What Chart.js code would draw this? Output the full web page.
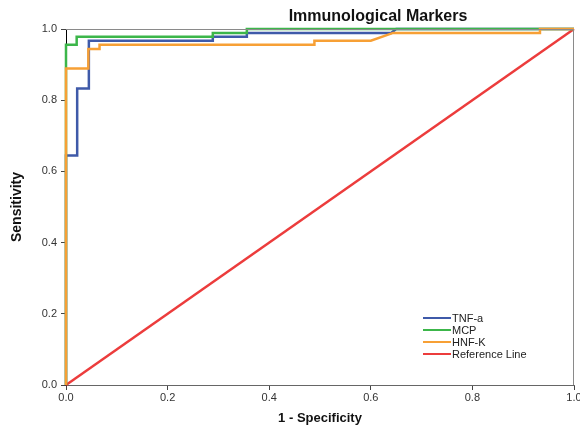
<!DOCTYPE html>
<html>
<head>
<meta charset="utf-8">
<script src="https://cdn.jsdelivr.net/npm/chart.js@4"></script>
<style>
  html, body { margin: 0; padding: 0; background: #fff; }
  #wrap { width: 580px; height: 428px; }
</style>
</head>
<body>
<div id="wrap"><canvas id="chart" width="580" height="428"></canvas></div>
<script>
// ROC curve points (1 - specificity, sensitivity)
const tnfFpr = [0, 0, 0.022, 0.022, 0.045, 0.045, 0.289, 0.289, 0.356, 0.356, 0.64, 0.65, 1];
const tnfTpr = [0, 0.645, 0.645, 0.833, 0.833, 0.967, 0.967, 0.978, 0.978, 0.989, 0.989, 1, 1];

const mcpFpr = [0, 0, 0.021, 0.021, 0.289, 0.289, 0.356, 0.356, 1];
const mcpTpr = [0, 0.956, 0.956, 0.978, 0.978, 0.989, 0.989, 1, 1];

const hnfFpr = [0, 0, 0.044, 0.044, 0.066, 0.066, 0.489, 0.489, 0.6, 0.644, 0.933, 0.933, 1];
const hnfTpr = [0, 0.889, 0.889, 0.944, 0.944, 0.956, 0.956, 0.967, 0.967, 0.989, 0.989, 1, 1];

const refFpr = [0, 1];
const refTpr = [0, 1];

const seriesNames = ['TNF-a', 'MCP', 'HNF-K', 'Reference Line'];
const seriesColors = ['#3f5aa9', '#3cb64a', '#f7a035', '#ec3c3c'];
const tickValues = [0, 0.2, 0.4, 0.6, 0.8, 1.0];

function toPoints(xs, ys) {
  return xs.map((x, i) => ({ x: x, y: ys[i] }));
}

// title and legend are drawn by hand, they sit where the chart puts them
const extras = {
  id: 'extras',
  afterDraw(chart) {
    const ctx = chart.ctx;
    const area = chart.chartArea;
    ctx.save();
    // frame on top and right
    ctx.strokeStyle = '#8a8a8a';
    ctx.lineWidth = 1;
    ctx.beginPath();
    ctx.moveTo(area.left, area.top + 0.5);
    ctx.lineTo(area.right - 0.5, area.top + 0.5);
    ctx.lineTo(area.right - 0.5, area.bottom);
    ctx.stroke();

    ctx.fillStyle = '#111';
    ctx.font = 'bold 16px "Liberation Sans", Arial, sans-serif';
    ctx.textAlign = 'center';
    ctx.textBaseline = 'middle';
    ctx.fillText('Immunological Markers', 378, 17);

    ctx.font = '11px "Liberation Sans", Arial, sans-serif';
    ctx.textAlign = 'left';
    chart.data.datasets.forEach((ds, i) => {
      const y = 318 + i * 12;
      ctx.strokeStyle = ds.borderColor;
      ctx.lineWidth = 2;
      ctx.beginPath();
      ctx.moveTo(423, y);
      ctx.lineTo(451, y);
      ctx.stroke();
      ctx.fillStyle = '#222';
      ctx.fillText(ds.label, 452, y + 1);
    });
    ctx.restore();
  }
};

const ctx = document.getElementById('chart').getContext('2d');
new Chart(ctx, {
  type: 'line',
  data: {
    datasets: [
      { label: seriesNames[0], data: toPoints(tnfFpr, tnfTpr), borderColor: seriesColors[0], order: 2 },
      { label: seriesNames[1], data: toPoints(mcpFpr, mcpTpr), borderColor: seriesColors[1], order: 1 },
      { label: seriesNames[2], data: toPoints(hnfFpr, hnfTpr), borderColor: seriesColors[2], order: 0 },
      { label: seriesNames[3], data: toPoints(refFpr, refTpr), borderColor: seriesColors[3], order: 3 }
    ].map(ds => Object.assign(ds, { borderWidth: 2.5, pointRadius: 0, tension: 0, fill: false, clip: 4 }))
  },
  options: {
    responsive: false,
    animation: false,
    layout: { padding: { top: 29, right: 6, left: 0, bottom: 0 } },
    plugins: {
      legend: { display: false },
      tooltip: { enabled: false }
    },
    scales: {
      x: {
        type: 'linear',
        min: 0,
        max: 1,
        afterBuildTicks: s => { s.ticks = tickValues.map(v => ({ value: v })); },
        afterFit: s => { s.height = 43; s.paddingLeft = 0; s.paddingRight = 0; },
        grid: { drawOnChartArea: false, tickLength: 5, tickColor: '#444' },
        border: { display: true, color: '#666', width: 1 },
        ticks: {
          padding: 1,
          color: '#333',
          maxRotation: 0,
          font: { family: '"Liberation Sans", Arial, sans-serif', size: 11 },
          callback: v => v.toFixed(1)
        },
        title: {
          display: true,
          text: '1 - Specificity',
          color: '#111',
          font: { family: '"Liberation Sans", Arial, sans-serif', size: 13, weight: 'bold' },
          padding: { top: 0, bottom: 2 }
        }
      },
      y: {
        type: 'linear',
        min: 0,
        max: 1,
        afterBuildTicks: s => { s.ticks = tickValues.map(v => ({ value: v })); },
        afterFit: s => { s.width = 66; s.paddingTop = 0; s.paddingBottom = 0; },
        grid: { drawOnChartArea: false, tickLength: 5, tickColor: '#444' },
        border: { display: true, color: '#000', width: 1 },
        ticks: {
          padding: 4,
          color: '#333',
          font: { family: '"Liberation Sans", Arial, sans-serif', size: 11 },
          callback: v => v.toFixed(1)
        },
        title: {
          display: true,
          text: 'Sensitivity',
          color: '#111',
          font: { family: '"Liberation Sans", Arial, sans-serif', size: 14, weight: 'bold' },
          padding: { top: 9, bottom: 0 }
        }
      }
    }
  },
  plugins: [extras]
});
</script>
</body>
</html>
